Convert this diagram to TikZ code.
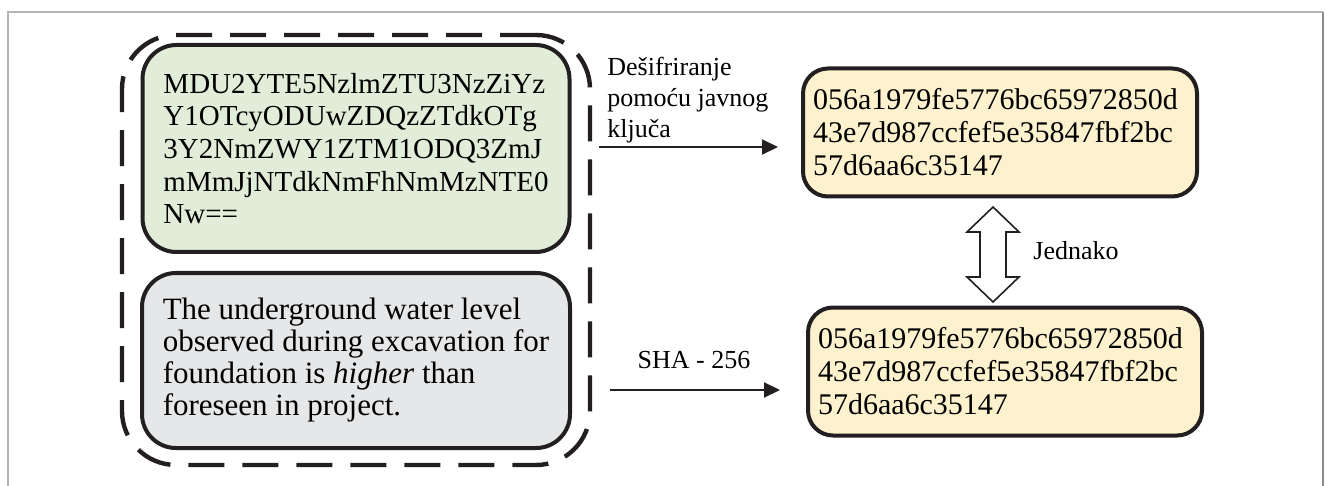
\documentclass[tikz,border=0pt]{standalone}
\usepackage{fontspec}
\setmainfont{Liberation Serif}
\usetikzlibrary{arrows.meta}
\definecolor{bordc}{HTML}{231F20}
\definecolor{greenc}{HTML}{E1EDD8}
\definecolor{grayc}{HTML}{E6E7E9}
\definecolor{yellowc}{HTML}{FDF1CE}
\definecolor{framel}{HTML}{B4B4B4}
\definecolor{framer}{HTML}{8C8C8C}
\begin{document}
\begin{tikzpicture}[x=0.5pt,y=-0.5pt,
  boxbase/.style={draw=bordc, line width=2pt, inner sep=0pt, align=left,
    font=\fontsize{15}{16.5}\selectfont},
  greenbox/.style={boxbase, fill=greenc, rounded corners=17pt,
    minimum width=213.5pt, minimum height=103.5pt,
    font=\fontsize{14.5}{16.3}\selectfont},
  graybox/.style={boxbase, fill=grayc, rounded corners=17pt,
    minimum width=214pt, minimum height=87.5pt,
    font=\fontsize{15.5}{16}\selectfont},
  yellowbox/.style={boxbase, fill=yellowc, rounded corners=12.5pt,
    text width=187pt, inner xsep=5pt, minimum height=64pt},
  groupbox/.style={draw=bordc, line width=2.2pt, rounded corners=27pt,
    dash pattern=on 18pt off 9pt, minimum width=234pt, minimum height=215pt,
    inner sep=0pt},
  lbl/.style={inner sep=0pt, font=\fontsize{13}{15.5}\selectfont, align=left},
  arr/.style={draw=bordc, line width=1pt, -{Triangle[length=8pt,width=7.5pt]}},
  dblarrow/.style={draw=bordc, line width=0.8pt, fill=white, line join=miter}
]
\useasboundingbox (0,0) rectangle (1327,486);
% outer frame
\draw[framel, line width=0.8pt] (8,486) -- (8,12) -- (1323,12);
\draw[framer, line width=0.8pt] (1323,12) -- (1323,486);

% group
\node[groupbox] (grp) at (356,250) {};
\node[greenbox] (sig) at (356,148.5) {MDU2YTE5NzlmZTU3NzZiYz\\Y1OTcyODUwZDQzZTdkOTg\\3Y2NmZWY1ZTM1ODQ3ZmJ\\mMmJjNTdkNmFhNmMzNTE0\\Nw==};
\node[graybox] (msg) at (356,360.5) {The underground water level\\observed during excavation for\\foundation is \textit{higher} than\\foreseen in project.};

% hash boxes
\node[yellowbox] (h1) at (1000,132.5) {056a1979fe5776bc65972850d\\43e7d987ccfef5e35847fbf2bc\\57d6aa6c35147};
\node[yellowbox] (h2) at (1005,371.5) {056a1979fe5776bc65972850d\\43e7d987ccfef5e35847fbf2bc\\57d6aa6c35147};

% arrows
\coordinate (a1) at (0,147);
\coordinate (a2) at (0,390);
\draw[arr, shorten >=11.5pt] ([xshift=3.5pt]grp.east |- a1) -- (h1.west |- a1);
\draw[arr, shorten >=13pt] ([xshift=9pt]grp.east |- a2) -- (h2.west |- a2);

\node[lbl, anchor=north west] (l1) at (607,57) {Dešifriranje\\pomoću javnog\\ključa};
\node[lbl, anchor=base] (l2) at (694,368) {SHA - 256};
\node[lbl, anchor=base west] (l3) at (1033,260) {Jednako};

% double arrow
\draw[dblarrow] (993,207) -- (1019,232) -- (1006,232) -- (1006,277) -- (1019,277)
  -- (993,302) -- (967,277) -- (980,277) -- (980,232) -- (967,232) -- cycle;
\end{tikzpicture}
\end{document}
